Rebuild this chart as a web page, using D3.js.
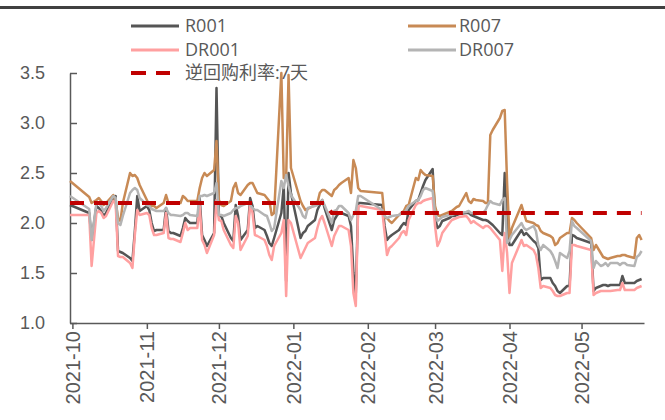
<!DOCTYPE html>
<html>
<head>
<meta charset="utf-8">
<script src="https://cdn.jsdelivr.net/npm/d3@7"></script>
<style>
  html, body { margin: 0; padding: 0; background: #fff; }
  svg { display: block; font-family: "Open Sans", "Noto Sans CJK SC", sans-serif; }
</style>
</head>
<body>
<svg id="chart" width="665" height="420"></svg>
<script>
// Trading-day dates shared by the four money-market rate series
const dates = [
  "2021-09-30","2021-10-08","2021-10-09","2021-10-11","2021-10-12","2021-10-13","2021-10-14","2021-10-15",
  "2021-10-18","2021-10-19","2021-10-20","2021-10-21","2021-10-22","2021-10-25","2021-10-26","2021-10-27",
  "2021-10-28","2021-10-29","2021-11-01","2021-11-02","2021-11-03","2021-11-04","2021-11-05","2021-11-08",
  "2021-11-09","2021-11-10","2021-11-11","2021-11-12","2021-11-15","2021-11-16","2021-11-17","2021-11-18",
  "2021-11-19","2021-11-22","2021-11-23","2021-11-24","2021-11-25","2021-11-26","2021-11-29","2021-11-30",
  "2021-12-01","2021-12-02","2021-12-03","2021-12-06","2021-12-07","2021-12-08","2021-12-09","2021-12-10",
  "2021-12-13","2021-12-14","2021-12-15","2021-12-16","2021-12-17","2021-12-20","2021-12-21","2021-12-22",
  "2021-12-23","2021-12-24","2021-12-27","2021-12-28","2021-12-29","2021-12-30","2021-12-31","2022-01-04",
  "2022-01-05","2022-01-06","2022-01-07","2022-01-10","2022-01-11","2022-01-12","2022-01-13","2022-01-14",
  "2022-01-17","2022-01-18","2022-01-19","2022-01-20","2022-01-21","2022-01-24","2022-01-25","2022-01-26",
  "2022-01-27","2022-01-28","2022-01-29","2022-02-07","2022-02-08","2022-02-09","2022-02-10","2022-02-11",
  "2022-02-14","2022-02-15","2022-02-16","2022-02-17","2022-02-18","2022-02-21","2022-02-22","2022-02-23",
  "2022-02-24","2022-02-25","2022-02-28","2022-03-01","2022-03-02","2022-03-03","2022-03-04","2022-03-07",
  "2022-03-08","2022-03-09","2022-03-10","2022-03-11","2022-03-14","2022-03-15","2022-03-16","2022-03-17",
  "2022-03-18","2022-03-21","2022-03-22","2022-03-23","2022-03-24","2022-03-25","2022-03-28","2022-03-29",
  "2022-03-30","2022-03-31","2022-04-01","2022-04-02","2022-04-06","2022-04-07","2022-04-08","2022-04-11",
  "2022-04-12","2022-04-13","2022-04-14","2022-04-15","2022-04-18","2022-04-19","2022-04-20","2022-04-21",
  "2022-04-22","2022-04-25","2022-04-26","2022-04-27","2022-04-28","2022-04-29","2022-05-05","2022-05-06",
  "2022-05-07","2022-05-09","2022-05-10","2022-05-11","2022-05-12","2022-05-13","2022-05-16","2022-05-17",
  "2022-05-18","2022-05-19","2022-05-20","2022-05-23","2022-05-24","2022-05-25","2022-05-26"
];

const r001 = [
  2.18,2.10,1.83,2.17,2.15,2.12,2.07,2.10, 2.25,2.27,1.72,1.71,1.70,1.65,1.62,1.92,
  2.27,2.12,2.17,2.13,2.00,1.92,1.93,1.93, 2.15,1.92,1.90,1.90,1.87,1.95,2.05,2.02,
  2.00,2.00,2.25,1.88,1.83,1.77,1.90,3.35, 2.07,2.07,2.00,1.85,1.82,2.18,2.07,1.83,
  1.93,2.25,2.17,1.95,1.97,1.93,1.87,1.80, 1.77,1.85,2.10,2.37,1.42,2.50,2.30,1.85,
  1.90,1.92,1.97,2.03,2.13,2.18,2.23,2.15, 1.93,2.03,2.07,2.10,2.10,2.07,1.97,1.50,
  1.30,2.20,2.20,2.18,1.97,1.83,1.86,1.88, 1.93,1.97,2.00,1.98,2.13,2.22,2.23,2.30,
  2.37,2.43,2.54,2.05,1.95,1.97,2.02,2.05, 2.07,2.07,2.08,2.09,2.10,2.10,2.08,2.07,
  2.06,2.03,2.03,2.02,2.00,1.98,1.90,1.88, 2.50,1.95,1.78,1.78,1.93,1.88,1.90,1.82,
  1.80,1.75,1.43,1.45,1.45,1.40,1.37,1.32, 1.30,1.37,1.37,1.88,1.87,1.85,1.80,1.32,
  1.35,1.37,1.38,1.38,1.37,1.38,1.38,1.38, 1.47,1.40,1.40,1.40,1.42,1.43,1.44
];

const r007 = [
  2.42,2.26,2.20,2.23,2.25,2.22,2.18,2.20, 2.28,2.22,2.05,2.02,2.20,2.50,2.47,2.48,
  2.45,2.38,2.23,2.18,2.17,2.17,2.15,2.20, 2.28,2.20,2.20,2.20,2.20,2.27,2.25,2.22,
  2.22,2.22,2.35,2.45,2.50,2.47,2.53,2.82, 2.23,2.18,2.17,2.22,2.35,2.40,2.30,2.28,
  2.38,2.40,2.40,2.35,2.30,2.28,2.25,2.22, 2.08,2.10,3.50,2.45,2.45,3.48,2.55,2.22,
  2.17,2.13,2.14,2.18,2.20,2.30,2.33,2.33, 2.27,2.33,2.35,2.38,2.40,2.45,2.30,2.63,
  2.55,2.35,2.32,2.30,2.05,2.05,2.02,2.00, 2.08,2.10,2.12,2.17,2.18,2.45,2.43,2.53,
  2.50,2.48,2.47,2.17,2.08,2.07,2.08,2.11, 2.12,2.14,2.16,2.17,2.30,2.22,2.20,2.24,
  2.23,2.22,2.20,2.20,2.88,2.93,3.05,3.12, 3.13,2.40,1.85,1.95,2.18,2.10,2.02,2.00,
  1.98,1.97,1.92,1.90,1.87,1.85,1.78,1.80, 1.85,1.90,1.90,2.05,2.03,2.00,1.85,1.73,
  1.78,1.70,1.66,1.65,1.64,1.65,1.67,1.67, 1.68,1.68,1.67,1.65,1.85,1.88,1.83
];

const dr001 = [
  2.08,2.08,1.57,2.10,2.12,2.10,2.05,2.07, 2.22,2.20,1.67,1.66,1.66,1.60,1.55,1.88,
  2.13,2.08,2.10,2.08,1.95,1.88,1.88,1.90, 2.10,1.85,1.84,1.84,1.81,1.90,2.00,1.93,
  1.95,1.95,2.17,1.83,1.78,1.70,1.88,2.23, 2.03,2.02,1.93,1.78,1.75,2.07,2.00,1.73,
  1.87,2.20,2.10,1.88,1.87,1.83,1.77,1.68, 1.63,1.77,1.90,2.03,1.27,2.03,2.00,1.65,
  1.70,1.75,1.80,1.85,1.95,2.03,2.07,2.00, 1.77,1.87,1.92,1.97,1.97,1.93,1.77,1.30,
  1.17,2.17,2.17,2.13,1.90,1.68,1.75,1.77, 1.85,1.90,1.92,1.88,2.03,2.18,2.20,2.20,
  2.22,2.23,2.25,1.97,1.77,1.82,1.90,2.00, 2.03,2.04,2.05,2.06,2.07,2.04,2.00,2.02,
  2.00,1.95,1.97,1.97,1.95,1.92,1.83,1.52, 1.90,1.70,1.30,1.60,1.83,1.77,1.78,1.73,
  1.68,1.55,1.35,1.37,1.35,1.32,1.28,1.27, 1.27,1.30,1.30,1.78,1.78,1.77,1.73,1.28,
  1.30,1.32,1.32,1.32,1.32,1.32,1.33,1.33, 1.40,1.33,1.33,1.33,1.35,1.36,1.37
];

const dr007 = [
  2.27,2.14,1.83,2.20,2.20,2.17,2.12,2.15, 2.27,2.25,2.00,1.98,2.07,2.30,2.33,2.35,
  2.33,2.25,2.18,2.17,2.14,2.13,2.12,2.12, 2.15,2.10,2.08,2.08,2.07,2.08,2.10,2.10,
  2.08,2.07,2.27,2.27,2.28,2.27,2.30,2.40, 2.08,2.08,2.07,2.10,2.13,2.15,2.15,2.17,
  2.20,2.18,2.15,2.13,2.13,2.08,2.07,2.00, 1.92,1.95,2.42,2.35,2.48,2.37,2.28,2.13,
  2.07,2.05,2.15,2.17,2.18,2.20,2.23,2.18, 2.00,2.12,2.13,2.17,2.17,2.10,2.03,2.08,
  2.12,2.27,2.27,2.13,2.07,2.05,2.06,2.07, 2.08,2.10,2.10,2.13,2.17,2.22,2.23,2.27,
  2.33,2.35,2.32,2.10,2.02,2.04,2.06,2.08, 2.08,2.09,2.10,2.10,2.11,2.12,2.10,2.10,
  2.09,2.10,2.13,2.18,2.22,2.20,2.18,2.23, 2.25,1.80,1.83,1.88,2.00,1.95,1.93,1.97,
  1.92,1.78,1.73,1.78,1.72,1.68,1.62,1.55, 1.70,1.65,1.72,2.02,1.97,1.95,1.82,1.55,
  1.62,1.57,1.58,1.60,1.57,1.60,1.60,1.58, 1.60,1.60,1.58,1.57,1.66,1.68,1.72
];

// 7-day reverse repo policy rate (cut on 2022-01-17)
const repoDates = ["2021-09-30","2022-01-14","2022-01-17","2022-05-26"];
const repoRate = [2.2, 2.2, 2.1, 2.1];

const yTicks = [1.0, 1.5, 2.0, 2.5, 3.0, 3.5];

const seriesNames = ["R001", "R007", "DR001", "DR007"];
const seriesColors = ["#555555", "#c88a55", "#ffa0a0", "#b4b4b4"];
const repoName = "逆回购利率:7天";
const repoColor = "#c00000";

const parse = d3.timeParse("%Y-%m-%d");
const svg = d3.select("#chart");

// top rule
svg.append("rect").attr("x", 0).attr("y", 6).attr("width", 665).attr("height", 3).attr("fill", "#404040");

const x = d3.scaleTime()
  .domain([parse("2021-09-30"), parse("2022-05-27")])
  .range([70, 644]);
const y = d3.scaleLinear().domain([1, 3.5]).range([323, 73]);

const textColor = "#595959";

// y axis: inward ticks
const yAxis = svg.append("g")
  .attr("transform", "translate(70,0)")
  .call(d3.axisLeft(y).tickValues(yTicks).tickFormat(d3.format(".1f"))
    .tickSizeInner(-7).tickSizeOuter(0).tickPadding(25));
yAxis.select(".domain").attr("stroke", textColor).attr("stroke-width", 1.5);
yAxis.selectAll(".tick line").attr("stroke", textColor).attr("stroke-width", 1.5);
yAxis.selectAll("text").attr("fill", textColor).style("font-size", "18px");

// x axis: month ticks, rotated labels
const xAxis = svg.append("g")
  .attr("transform", "translate(0,323)")
  .call(d3.axisBottom(x).ticks(d3.timeMonth.every(1)).tickFormat(d3.timeFormat("%Y-%m"))
    .tickSizeInner(6).tickSizeOuter(0));
xAxis.select(".domain").attr("stroke", textColor).attr("stroke-width", 1.5);
xAxis.selectAll(".tick line").attr("stroke", textColor).attr("stroke-width", 1.5);
xAxis.selectAll("text")
  .attr("fill", textColor)
  .style("font-size", "20px")
  .style("text-anchor", "end")
  .attr("x", -8).attr("y", 0).attr("dy", "0.35em")
  .attr("transform", "rotate(-90)");

const line = d3.line().x(d => x(d.date)).y(d => y(d.v));
const parsedDates = dates.map(parse);
const seriesValues = [r001, r007, dr001, dr007];

seriesValues.forEach((vals, i) => {
  const pts = vals.map((v, j) => ({ date: parsedDates[j], v }));
  svg.append("path")
    .datum(pts)
    .attr("fill", "none")
    .attr("stroke", seriesColors[i])
    .attr("stroke-width", 2.5)
    .attr("stroke-linejoin", "round")
    .attr("d", line);
});

const repoPts = repoRate.map((v, j) => ({ date: parse(repoDates[j]), v }));
svg.append("path")
  .datum(repoPts)
  .attr("fill", "none")
  .attr("stroke", repoColor)
  .attr("stroke-width", 4)
  .attr("stroke-dasharray", "14,10")
  .attr("d", line);

// legend: two columns
const legendItems = [
  { name: seriesNames[0], color: seriesColors[0], x: 131, y: 26, tx: 185 },
  { name: seriesNames[2], color: seriesColors[2], x: 131, y: 50, tx: 185 },
  { name: repoName, color: repoColor, x: 131, y: 73, tx: 185, dash: true },
  { name: seriesNames[1], color: seriesColors[1], x: 408, y: 26, tx: 459 },
  { name: seriesNames[3], color: seriesColors[3], x: 408, y: 50, tx: 459 }
];
const lg = svg.append("g");
legendItems.forEach(it => {
  lg.append("line")
    .attr("x1", it.x).attr("x2", it.x + (it.dash ? 39 : 48))
    .attr("y1", it.y).attr("y2", it.y)
    .attr("stroke", it.color)
    .attr("stroke-width", it.dash ? 4 : 3)
    .attr("stroke-dasharray", it.dash ? "15,10" : null);
  lg.append("text")
    .attr("x", it.tx).attr("y", it.y)
    .attr("dy", "0.35em")
    .attr("fill", textColor)
    .style("font-size", "18px")
    .text(it.name);
});
</script>
</body>
</html>
